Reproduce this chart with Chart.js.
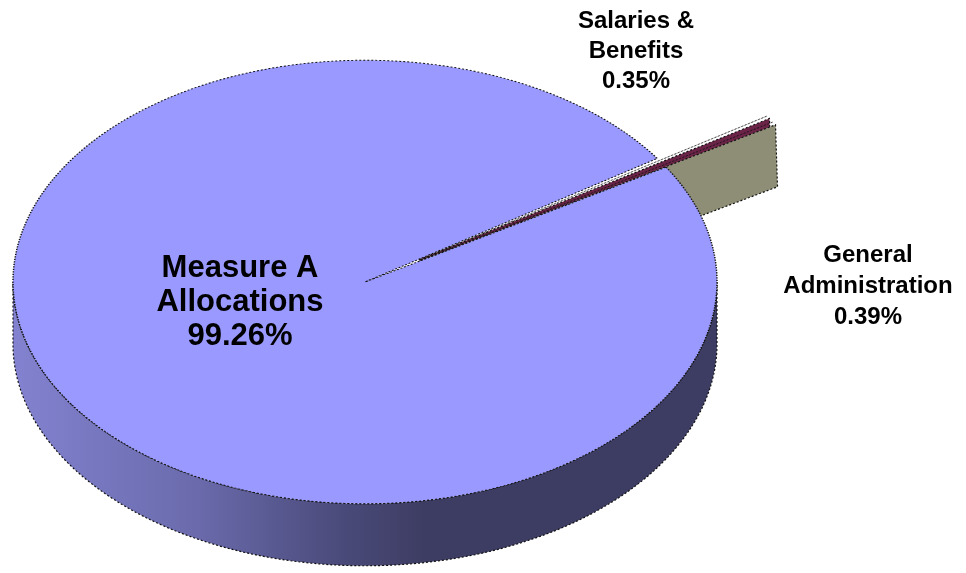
<!DOCTYPE html>
<html>
<head>
<meta charset="utf-8">
<script src="https://cdn.jsdelivr.net/npm/chart.js@4.4.0/dist/chart.umd.min.js"></script>
<style>
  html, body { margin: 0; padding: 0; background: #fff; }
  #wrap { width: 966px; height: 573px; position: relative; }
</style>
</head>
<body>
<div id="wrap"><canvas id="pie"></canvas></div>
<script>
// data
const categories = ['Measure A Allocations', 'Salaries & Benefits', 'General Administration'];
const labelNames = [['Measure A', 'Allocations'], ['Salaries &', 'Benefits'], ['General', 'Administration']];
const shares = [99.26, 0.35, 0.39];
const topColors = ['#9999FF', '#993366', '#FFFFCC'];
const sideColors = [null, '#6b2447', '#8e8e76'];
const explode = [0, 260, 260];

// look of the fake 3D
const PIE_X = 365, PIE_Y = 282;   // where the top face centre sits on screen
const TILT = 0.63;                // vertical squash of the top face
const DEPTH = 62;                 // thickness of the pie

function sideGradient(ctx, cx, R) {
    const g = ctx.createLinearGradient(cx - R, 0, cx + 60, 0);
    g.addColorStop(0, '#8282d0');
    g.addColorStop(0.45, '#6a6aac');
    g.addColorStop(0.8, '#4a4a7a');
    g.addColorStop(1, '#3d3d63');
    return g;
}

const pie3d = {
    id: 'pie3d',
    beforeDatasetsDraw(chart) {
        const ctx = chart.ctx;
        const arcs = chart.getDatasetMeta(0).data;
        const base = arcs[0];

        ctx.save();
        ctx.lineWidth = 1.2;
        ctx.strokeStyle = '#111';
        ctx.setLineDash([2, 2]);

        arcs.forEach((el, i) => {
            const s = el.startAngle, e = el.endAngle;
            const circ = e - s;
            const o = (el.options.offset || 0) / 4;
            const h = (s + e) / 2;
            const fix = 1 - Math.sin(Math.min(Math.PI, circ));
            const R = el.outerRadius + o * fix;
            // apex of the slice on screen
            const ax = PIE_X + (el.x - base.x) + Math.cos(h) * o;
            const ay = PIE_Y + Math.sin(h) * o * TILT;
            const ry = R * TILT;

            // radial faces of exploded slices
            if (o > 0) {
                [[e, Math.cos(e) > 0], [s, -Math.cos(s) > 0]].forEach(([a, vis]) => {
                    if (!vis) return;
                    const px = ax + Math.cos(a) * R, py = ay + Math.sin(a) * ry;
                    ctx.beginPath();
                    ctx.moveTo(ax, ay);
                    ctx.lineTo(px, py);
                    ctx.lineTo(px + 2, py + DEPTH);
                    ctx.lineTo(ax, ay + DEPTH);
                    ctx.closePath();
                    ctx.fillStyle = sideColors[i];
                    ctx.fill();
                    ctx.stroke();
                });
            }

            // outer wall, front half only
            for (let k = -1; k <= 1; k++) {
                const from = Math.max(s, 2 * Math.PI * k);
                const to = Math.min(e, 2 * Math.PI * k + Math.PI);
                if (to <= from) continue;
                ctx.beginPath();
                ctx.ellipse(ax, ay, R, ry, 0, from, to, false);
                ctx.lineTo(ax + Math.cos(to) * R, ay + Math.sin(to) * ry + DEPTH);
                ctx.ellipse(ax, ay + DEPTH, R, ry, 0, to, from, true);
                ctx.closePath();
                ctx.fillStyle = sideColors[i] || sideGradient(ctx, ax, R);
                ctx.fill();
                ctx.stroke();
            }
        });
        ctx.restore();

        // top faces: let Chart.js draw them, squashed into an ellipse
        ctx.save();
        ctx.translate(PIE_X, PIE_Y);
        ctx.scale(1, TILT);
        ctx.translate(-base.x, -base.y);
    },
    afterDatasetsDraw(chart) {
        chart.ctx.restore();
    },
    afterDraw(chart) {
        const ctx = chart.ctx;
        // label anchors (centre of first line) and sizes
        const spots = [
            { x: 240, y: 268, size: 31, gap: 34 },
            { x: 636, y: 21, size: 24, gap: 30 },
            { x: 868, y: 255, size: 24, gap: 31 }
        ];
        ctx.save();
        ctx.fillStyle = '#000';
        ctx.textAlign = 'center';
        ctx.textBaseline = 'middle';
        spots.forEach((p, i) => {
            ctx.font = 'bold ' + p.size + 'px "Liberation Sans", Arial, sans-serif';
            const lines = labelNames[i].concat([shares[i].toFixed(2) + '%']);
            lines.forEach((t, j) => ctx.fillText(t, p.x, p.y + j * p.gap));
        });
        ctx.restore();
    }
};

new Chart(document.getElementById('pie'), {
    type: 'pie',
    data: {
        labels: categories,
        datasets: [{
            data: shares,
            backgroundColor: topColors,
            borderColor: '#111',
            borderWidth: [1.5, 0.7, 0.7],
            borderDash: [2, 2],
            offset: explode,
            clip: false
        }]
    },
    options: {
        responsive: true,
        maintainAspectRatio: false,
        animation: false,
        events: [],
        rotation: 58.8,
        radius: 352,
        layout: { padding: 0 },
        plugins: {
            legend: { display: false },
            tooltip: { enabled: false }
        }
    },
    plugins: [pie3d]
});
</script>
</body>
</html>
